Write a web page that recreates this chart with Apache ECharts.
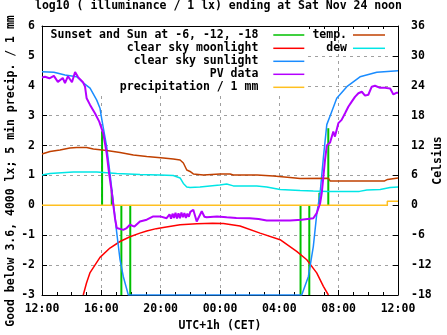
<!DOCTYPE html>
<html>
<head>
<meta charset="utf-8">
<script src="https://cdn.jsdelivr.net/npm/echarts@6/dist/echarts.min.js"></script>
<style>html,body{margin:0;padding:0;background:#fff}#c{width:447px;height:335px}</style>
</head>
<body>
<div id="c"></div>
<script>
// hours after 12:00 (Fri noon) -> value
const xTickLabels = ['12:00','16:00','20:00','00:00','04:00','08:00','12:00'];
const sunTimes  = [4.05, 4.7, 5.35, 5.95, 17.43, 18.02, 18.7, 19.3];
const sunLevels = [2.47, 0.52, -3, -3, -3, -3, 0.42, 2.58];
const moonlight = [[2.78,-3],[3.0,-2.6],[3.24,-2.25],[3.91,-1.74],[4.58,-1.43],[5.26,-1.21],[5.93,-1.05],[6.6,-0.93],[7.06,-0.86],[7.7,-0.78],[8.18,-0.74],[9.31,-0.65],[10.43,-0.62],[11.5,-0.6],[12.23,-0.61],[13.35,-0.69],[14.7,-0.93],[16.05,-1.15],[17.17,-1.54],[17.85,-1.82],[18.52,-2.26],[18.97,-2.71],[19.31,-3]];
const sunlight = [[0,4.47],[0.8,4.45],[1.55,4.36],[2.34,4.3],[2.78,4.1],[3.24,3.92],[3.69,3.52],[3.91,3.25],[4.0,2.97],[4.13,2.6],[4.36,1.96],[4.58,1.08],[4.81,0.08],[5.04,-0.92],[5.26,-1.82],[5.48,-2.38],[5.82,-3],
  [17.51,-3],[17.96,-2.38],[18.29,-1.38],[18.41,-0.82],[18.52,-0.3],[18.75,0.42],[18.97,1.6],[19.2,2.7],[19.53,3.13],[19.87,3.58],[20.55,3.97],[21.44,4.3],[22.57,4.45],[24,4.5]];
const pvData = [[0,4.28],[0.2,4.3],[0.5,4.25],[0.8,4.33],[1.07,4.13],[1.4,4.26],[1.55,4.09],[1.75,4.32],[2.02,4.12],[2.23,4.46],[2.43,4.29],[2.56,4.3],[2.76,4.12],[2.9,3.97],[3.01,3.58],[3.24,3.36],[3.57,3.08],[3.86,2.8],[4.13,2.41],[4.36,1.74],[4.52,1.08],[4.65,0.63],[4.77,0.18],[4.81,0],[4.92,-0.43],[5.04,-0.76],[5.15,-0.82],[5.48,-0.82],[5.71,-0.76],[5.93,-0.65],[6.05,-0.6],[6.23,-0.71],[6.6,-0.54],[7.06,-0.48],[7.5,-0.37],[7.96,-0.37],[8.4,-0.43],
  [8.6,-0.3],[8.7,-0.45],[8.8,-0.28],[8.9,-0.42],[9.0,-0.25],[9.1,-0.44],[9.2,-0.27],[9.3,-0.43],[9.4,-0.24],[9.5,-0.4],[9.6,-0.26],[9.7,-0.42],[9.8,-0.28],[9.9,-0.38],[10.0,-0.22],[10.2,-0.15],[10.43,-0.54],[10.77,-0.2],[10.95,-0.38],[11.1,-0.4],[11.8,-0.37],[12.45,-0.4],[13.1,-0.42],[14.0,-0.43],[14.6,-0.46],[15.15,-0.51],[16.0,-0.51],[16.72,-0.51],[17.5,-0.48],[18.29,-0.43],[18.52,-0.26],[18.75,0.07],[18.86,0.41],[18.97,0.96],[19.08,1.52],[19.2,2.0],[19.42,2.1],[19.64,2.47],[19.75,2.3],[19.98,2.75],[20.2,2.86],[20.43,3.08],[20.65,3.3],[20.88,3.47],[21.1,3.63],[21.33,3.75],[21.56,3.8],[21.78,3.67],[22.0,3.7],[22.23,3.97],[22.45,4.0],[22.79,3.93],[23.13,3.93],[23.47,3.91],[23.69,3.71],[23.92,3.77],[24,3.77]];
const precipitation = [[0,0],[23.28,0],[23.28,0.14],[24,0.14]];
const temperature = [[0,10.3],[0.54,10.8],[1.21,11.1],[1.88,11.5],[2.34,11.6],[3.01,11.6],[3.46,11.3],[4.36,11.0],[5.26,10.6],[6.16,10.1],[7.06,9.8],[8.18,9.5],[8.85,9.3],[9.31,9.1],[9.53,8.5],[9.76,7.1],[9.98,6.8],[10.2,6.3],[10.88,6.1],[12.0,6.3],[12.68,6.3],[12.9,6.1],[14.5,6.1],[15.6,5.9],[16.72,5.6],[17.4,5.4],[19.3,5.45],[19.42,4.9],[23.1,4.9],[23.3,5.2],[24,5.5]];
const dewPoint = [[0,6.1],[0.54,6.4],[2.11,6.7],[3.69,6.7],[4.13,6.6],[5.04,6.4],[6.61,6.2],[7.96,6.1],[8.85,6.0],[9.31,5.5],[9.53,4.4],[9.76,3.7],[9.98,3.6],[10.65,3.7],[11.99,4.1],[12.45,4.3],[12.9,3.9],[14.48,3.9],[15.15,3.7],[16.05,3.2],[17.4,3.0],[18.29,2.9],[19.31,2.8],[21.4,2.8],[21.9,3.1],[22.8,3.2],[23.47,3.6],[24,3.7]];

const FONT = 'DejaVu Sans Mono';
const FS = 11.5;
const txt = {fontFamily: FONT, fontWeight: 'bold', fontSize: FS, color: '#000'};
const C = {sun:'#00c000', moon:'#ff0000', sunl:'#1a8cff', pv:'#b400ff', prec:'#ffc020', temp:'#c04000', dew:'#00e6e6'};
const N = {sun:'Sunset and Sun at -6, -12, -18', moon:'clear sky moonlight', sunl:'clear sky sunlight', pv:'PV data', prec:'precipitation / 1 mm', temp:'temp.', dew:'dew'};

function lineSeries(name, data, color, width, yIdx) {
  return {type:'line', name, data, yAxisIndex: yIdx||0, xAxisIndex:0, showSymbol:false, symbol:'none',
    lineStyle:{color, width}, itemStyle:{color}, z:5, animation:false, clip:true};
}
const series = [];
sunTimes.forEach((t,i)=>series.push(lineSeries(N.sun, [[t,0],[t,sunLevels[i]]], C.sun, 2)));
series.push(lineSeries(N.moon, moonlight, C.moon, 1.5));
series.push(lineSeries(N.sunl, sunlight, C.sunl, 1.5));
series.push(lineSeries(N.prec, precipitation, C.prec, 1.5));
series.push(lineSeries(N.temp, temperature, C.temp, 1.5, 1));
series.push(lineSeries(N.dew, dewPoint, C.dew, 1.5, 1));
series.push(lineSeries(N.pv, pvData, C.pv, 2));

function leg(name, right, centerY, padRight, w) {
  return {data:[name], right, top: centerY-6.5, padding:0, align:'right', icon:'rect', itemWidth:w, itemHeight:1.5,
    textStyle:Object.assign({}, txt, {lineHeight:13, padding:[0,padRight,0,0]}), selectedMode:false, z:6};
}
const chart = echarts.init(document.getElementById('c'));
chart.setOption({
  animation:false,
  backgroundColor:'#fff',
  title:{text:'log10 ( illuminance / 1 lx) ending at Sat Nov 24 noon', left:35, top:0, padding:0,
    textStyle:Object.assign({}, txt, {lineHeight:13})},
  grid:{left:42, right:49, top:26, bottom:40, containLabel:false, outerBoundsMode:'none'},
  legend:[
    leg(N.sun, 142.7, 35, 10, 31), leg(N.moon, 142.7, 48.3, 10, 31), leg(N.sunl, 142.7, 61.3, 10, 31),
    leg(N.pv, 142.7, 74.3, 10, 31), leg(N.prec, 142.7, 87.3, 10, 31),
    leg(N.temp, 62, 35, 1, 32), leg(N.dew, 62, 48.3, 1, 32)
  ],
  graphic:{elements:[{type:'rect', shape:{x:43, y:27, width:263, height:65}, style:{fill:'#fff'}, z:1, silent:true}]},
  xAxis:[
    {type:'value', min:0, max:24, interval:4, position:'bottom',
      axisLine:{show:true, onZero:false, lineStyle:{color:'#000', width:1}},
      axisTick:{show:true, inside:true, length:5, lineStyle:{color:'#000'}},
      minorTick:{show:true, splitNumber:4, length:3, lineStyle:{color:'#000'}},
      axisLabel:Object.assign({}, txt, {margin:8, formatter:v=>xTickLabels[Math.round(v/4)]}),
      splitLine:{show:true, lineStyle:{color:'#a0a0a0', type:[3,4], width:1}},
      name:'UTC+1h (CET)', nameLocation:'middle', nameGap:25, nameMoveOverlap:false,
      nameTextStyle:Object.assign({}, txt, {lineHeight:13})},
    {type:'value', min:0, max:24, interval:4, position:'top',
      axisLine:{show:true, onZero:false, lineStyle:{color:'#000', width:1}},
      axisTick:{show:true, inside:true, length:5, lineStyle:{color:'#000'}},
      minorTick:{show:true, splitNumber:4, length:3, lineStyle:{color:'#000'}},
      axisLabel:{show:false}, splitLine:{show:false}}
  ],
  yAxis:[
    {type:'value', min:-3, max:6, interval:1, position:'left',
      axisLine:{show:true, onZero:false, lineStyle:{color:'#000', width:1}},
      axisTick:{show:true, inside:true, length:5, lineStyle:{color:'#000'}},
      axisLabel:Object.assign({}, txt, {margin:7}),
      splitLine:{show:true, lineStyle:{color:'#a0a0a0', type:[3,4], width:1}},
      name:'Good below 3.6, 4000 lx; 5 min precip. / 1 mm', nameLocation:'middle', nameRotate:90, nameGap:24,
      nameMoveOverlap:false,
      nameTextStyle:Object.assign({}, txt, {lineHeight:13, padding:[0,21,0,0]})},
    {type:'value', min:-18, max:36, interval:6, position:'right',
      axisLine:{show:true, onZero:false, lineStyle:{color:'#000', width:1}},
      axisTick:{show:true, inside:true, length:5, lineStyle:{color:'#000'}},
      axisLabel:Object.assign({}, txt, {margin:13}),
      splitLine:{show:false},
      name:'Celsius', nameLocation:'middle', nameRotate:90, nameGap:34, nameMoveOverlap:false,
      nameTextStyle:Object.assign({}, txt, {lineHeight:13})}
  ],
  series
});
</script>
</body>
</html>
